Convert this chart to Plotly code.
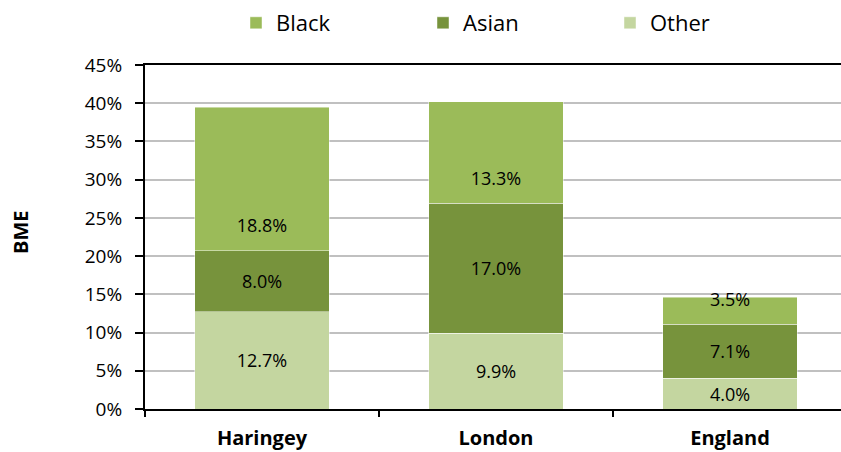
import plotly.graph_objects as go

categories = ["Haringey", "London", "England"]
other = [12.7, 9.9, 4.0]
asian = [8.0, 17.0, 7.1]
black = [18.8, 13.3, 3.5]
y_ticks = [0, 5, 10, 15, 20, 25, 30, 35, 40, 45]

FONT = "Open Sans"
col_other = "#C4D6A0"
col_asian = "#77933C"
col_black = "#9BBB59"

fig = go.Figure()
for name, vals, col, show_text in [("Other", other, col_other, True),
                                   ("Asian", asian, col_asian, True),
                                   ("Black", black, col_black, False)]:
    fig.add_trace(go.Bar(
        x=categories, y=vals, name=name,
        marker=dict(color=col, line=dict(color="rgba(255,255,255,0.45)", width=1)),
        text=[f"{v:.1f}%" for v in vals] if show_text else None,
        textposition="inside" if show_text else "none",
        insidetextanchor="middle",
        textfont=dict(family=FONT, size=18, color="#000000"),
        constraintext="none",
        width=0.573,
        hoverinfo="x+y+name",
    ))

# Black labels sit just above the Asian segment (as in the source chart)
label_offset = 3.0
black_label_y = [o + a + label_offset for o, a in zip(other, asian)]
fig.add_trace(go.Scatter(
    x=categories, y=black_label_y, mode="text",
    text=[f"{v:.1f}%" for v in black],
    textposition="middle center",
    textfont=dict(family=FONT, size=18, color="#000000"),
    showlegend=False, hoverinfo="skip",
))

W, H = 841, 452
L, R, T, B = 145, 0, 65, 43
plot_w = W - L - R
cat_w = 234
x_end = -0.5 + plot_w / cat_w

fig.update_layout(
    width=W, height=H,
    barmode="stack",
    plot_bgcolor="white", paper_bgcolor="white",
    margin=dict(l=L, r=R, t=T, b=B, autoexpand=False),
    font=dict(family=FONT, color="#000000"),
    showlegend=True,
    legend=dict(
        orientation="h", traceorder="reversed",
        x=(236 - L) / plot_w, xanchor="left",
        y=1 + (T - 23) / (H - T - B), yanchor="middle",
        font=dict(family=FONT, size=22, color="#000000"),
        entrywidth=142, entrywidthmode="pixels",
        bgcolor="rgba(0,0,0,0)",
    ),
    xaxis=dict(
        range=[-0.5, x_end],
        showline=True, linecolor="#000000", linewidth=2, mirror=True,
        ticks="outside", ticklen=6, tickcolor="#000000", tickwidth=2,
        tickson="boundaries", ticklabelstandoff=10,
        tickfont=dict(family=FONT, size=20, color="#000000", weight="bold"),
        showgrid=False,
    ),
    yaxis=dict(
        range=[0, 45], tickvals=y_ticks, ticktext=[f"{v}%" for v in y_ticks],
        showline=True, linecolor="#000000", linewidth=2,
        ticks="outside", ticklen=8, tickcolor="#000000", tickwidth=2,
        ticklabelstandoff=9,
        tickfont=dict(family=FONT, size=19, color="#000000"),
        showgrid=True, gridcolor="#C0C0C0", gridwidth=1.5,
        zeroline=False,
    ),
    annotations=[dict(
        text="<b>BME</b>", textangle=-90,
        xref="paper", yref="paper",
        x=(20 - L) / plot_w, y=(H - B - 232) / (H - T - B),
        xanchor="center", yanchor="middle", showarrow=False,
        font=dict(family=FONT, size=20, color="#000000"),
    )],
)

fig.write_html("out.html", config={"displayModeBar": False},
               post_script="document.body.style.margin='0';document.body.style.overflow='hidden';")
